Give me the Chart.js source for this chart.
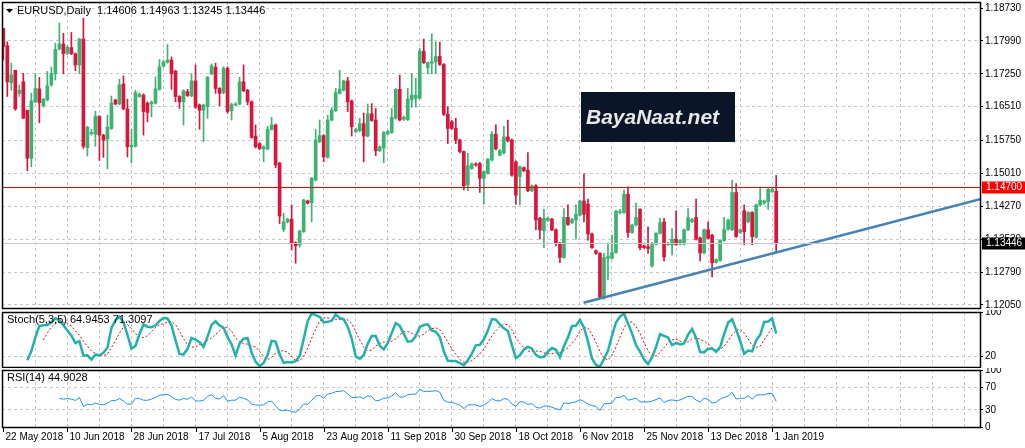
<!DOCTYPE html>
<html>
<head>
<meta charset="utf-8">
<script src="https://cdn.jsdelivr.net/npm/chart.js@4/dist/chart.umd.min.js"></script>
<style>
  body { margin: 0; background: #fff; width: 1025px; height: 448px; overflow: hidden; position: relative; }
  canvas { position: absolute; left: 0; }
</style>
</head>
<body>
<canvas id="mainChart" width="1025" height="310" style="top:0"></canvas>
<canvas id="stochChart" width="1025" height="58" style="top:310px"></canvas>
<canvas id="rsiChart" width="1025" height="80" style="top:368px"></canvas>
<script>
const openPrices = [
  1.1827,1.1788,1.1705,1.1733,1.1681,1.1707,1.1643,1.1535,1.1662,1.1691,
  1.1653,1.1666,1.1700,1.1725,1.1781,1.1792,1.1771,1.1784,1.1770,1.1745,
  1.1803,1.1559,1.1590,1.1589,1.1629,1.1587,1.1578,1.1602,1.1666,1.1657,
  1.1702,1.1646,1.1561,1.1562,1.1674,1.1677,1.1659,1.1657,1.1659,1.1690,
  1.1742,1.1751,1.1756,1.1731,1.1674,1.1662,1.1685,1.1675,1.1709,1.1655,
  1.1643,1.1651,1.1725,1.1740,1.1692,1.1683,1.1737,1.1642,1.1655,1.1657,
  1.1707,1.1688,1.1662,1.1585,1.1568,1.1556,1.1556,1.1600,1.1610,1.1524,
  1.1375,1.1392,1.1398,1.1345,1.1340,1.1370,1.1439,1.1435,1.1486,1.1572,
  1.1586,1.1537,1.1621,1.1642,1.1681,1.1688,1.1709,1.1664,1.1595,1.1597,
  1.1613,1.1585,1.1635,1.1621,1.1552,1.1558,1.1590,1.1593,1.1625,1.1690,
  1.1623,1.1622,1.1667,1.1670,1.1670,1.1776,1.1739,1.1749,1.1752,1.1764,
  1.1746,1.1634,1.1617,1.1602,1.1576,1.1550,1.1475,1.1512,1.1522,1.1523,
  1.1490,1.1501,1.1531,1.1589,1.1542,1.1547,1.1583,1.1576,1.1527,1.1494,
  1.1514,1.1508,1.1462,1.1473,1.1400,1.1372,1.1395,1.1398,1.1374,1.1344,
  1.1312,1.1402,1.1390,1.1396,1.1407,1.1439,1.1432,1.1365,1.1327,1.1321,
  1.1222,1.1310,1.1310,1.1323,1.1413,1.1413,1.1454,1.1368,1.1385,1.1420,
  1.1338,1.1336,1.1293,1.1342,1.1366,1.1392,1.1341,1.1340,1.1353,1.1342,
  1.1342,1.1374,1.1392,1.1402,1.1356,1.1322,1.1374,1.1362,1.1301,1.1305,
  1.1350,1.1375,1.1374,1.1458,1.1368,1.1417,1.1392,1.1413,1.1357,1.1430,
  1.1434,1.1437,1.1460,1.14606
];
const highPrices = [
  1.1827,1.1797,1.1749,1.1733,1.1700,1.1726,1.1643,1.1681,1.1725,1.1717,
  1.1670,1.1730,1.1740,1.1794,1.1839,1.1816,1.1788,1.1818,1.1772,1.1805,
  1.1850,1.1607,1.1600,1.1641,1.1631,1.1589,1.1632,1.1675,1.1668,1.1713,
  1.1720,1.1668,1.1600,1.1688,1.1682,1.1680,1.1662,1.1664,1.1718,1.1757,
  1.1755,1.1791,1.1763,1.1733,1.1676,1.1689,1.1690,1.1725,1.1745,1.1657,
  1.1657,1.1719,1.1747,1.1749,1.1694,1.1741,1.1741,1.1659,1.1660,1.1717,
  1.1745,1.1690,1.1664,1.1610,1.1570,1.1563,1.1607,1.1627,1.1612,1.1526,
  1.1411,1.1400,1.1430,1.1347,1.1373,1.1443,1.1441,1.1492,1.1600,1.1621,
  1.1588,1.1632,1.1649,1.1692,1.1733,1.1711,1.1717,1.1666,1.1603,1.1625,
  1.1637,1.1657,1.1658,1.1647,1.1563,1.1595,1.1598,1.1647,1.1692,1.1722,
  1.1630,1.1692,1.1725,1.1715,1.1782,1.1803,1.1752,1.1815,1.1797,1.1796,
  1.1748,1.1651,1.1620,1.1625,1.1578,1.1552,1.1546,1.1525,1.1525,1.1526,
  1.1507,1.1535,1.1595,1.1610,1.1555,1.1607,1.1621,1.1578,1.1529,1.1518,
  1.1516,1.1548,1.1475,1.1476,1.1402,1.1420,1.1403,1.1400,1.1376,1.1346,
  1.1422,1.1430,1.1400,1.1430,1.1441,1.1500,1.1443,1.1367,1.1329,1.1323,
  1.1321,1.1345,1.1362,1.1418,1.1420,1.1464,1.1471,1.1387,1.1434,1.1422,
  1.1340,1.1381,1.1346,1.1368,1.1400,1.1400,1.1346,1.1377,1.1417,1.1352,
  1.1376,1.1422,1.1400,1.1443,1.1358,1.1376,1.1392,1.1364,1.1309,1.1352,
  1.1402,1.1398,1.1486,1.1478,1.1376,1.1430,1.1415,1.1415,1.1432,1.1471,
  1.1441,1.1467,1.1470,1.14963
];
const lowPrices = [
  1.1756,1.1674,1.1688,1.1643,1.1674,1.1625,1.1507,1.1516,1.1660,1.1615,
  1.1650,1.1664,1.1697,1.1711,1.1779,1.1725,1.1768,1.1768,1.1732,1.1725,
  1.1557,1.1540,1.1587,1.1562,1.1530,1.1537,1.1511,1.1600,1.1655,1.1655,
  1.1644,1.1538,1.1525,1.1560,1.1672,1.1587,1.1617,1.1628,1.1657,1.1688,
  1.1740,1.1749,1.1690,1.1662,1.1647,1.1610,1.1674,1.1673,1.1647,1.1600,
  1.1572,1.1625,1.1723,1.1681,1.1653,1.1680,1.1636,1.1621,1.1653,1.1655,
  1.1685,1.1655,1.1580,1.1558,1.1554,1.1527,1.1554,1.1598,1.1514,1.1388,
  1.1370,1.1390,1.1329,1.1299,1.1335,1.1368,1.1432,1.1392,1.1484,1.1570,
  1.1527,1.1535,1.1619,1.1640,1.1679,1.1686,1.1640,1.1585,1.1592,1.1595,
  1.1527,1.1583,1.1618,1.1541,1.1550,1.1525,1.1588,1.1591,1.1623,1.1619,
  1.1620,1.1620,1.1650,1.1650,1.1668,1.1748,1.1725,1.1725,1.1725,1.1744,
  1.1631,1.1568,1.1600,1.1568,1.1547,1.1464,1.1462,1.1510,1.1517,1.1458,
  1.1432,1.1499,1.1529,1.1554,1.1540,1.1545,1.1572,1.1495,1.1432,1.1430,
  1.1505,1.1460,1.1460,1.1374,1.1353,1.1334,1.1393,1.1372,1.1338,1.1300,
  1.1310,1.1384,1.1388,1.1353,1.1405,1.1392,1.1351,1.1332,1.1319,1.1220,
  1.1218,1.1262,1.1308,1.1321,1.1410,1.1411,1.1357,1.1366,1.1383,1.1329,
  1.1332,1.1321,1.1290,1.1340,1.1364,1.1304,1.1339,1.1317,1.1339,1.1340,
  1.1340,1.1372,1.1390,1.1351,1.1304,1.1320,1.1353,1.1268,1.1299,1.1303,
  1.1348,1.1373,1.1372,1.1357,1.1366,1.1340,1.1390,1.1340,1.1355,1.1428,
  1.1432,1.1420,1.1458,1.13245
];
const closePrices = [
  1.1786,1.1707,1.1722,1.1646,1.1688,1.1625,1.1535,1.1664,1.1692,1.1660,
  1.1668,1.1698,1.1726,1.1780,1.1792,1.1770,1.1785,1.1770,1.1745,1.1803,
  1.1562,1.1605,1.1593,1.1630,1.1587,1.1576,1.1605,1.1659,1.1657,1.1700,
  1.1646,1.1561,1.1564,1.1683,1.1679,1.1640,1.1638,1.1661,1.1691,1.1741,
  1.1752,1.1756,1.1725,1.1674,1.1662,1.1687,1.1676,1.1709,1.1650,1.1643,
  1.1655,1.1717,1.1743,1.1692,1.1681,1.1737,1.1640,1.1656,1.1657,1.1707,
  1.1687,1.1662,1.1582,1.1561,1.1557,1.1561,1.1600,1.1610,1.1520,1.1405,
  1.1392,1.1398,1.1344,1.1338,1.1371,1.1441,1.1434,1.1490,1.1576,1.1586,
  1.1538,1.1621,1.1643,1.1683,1.1690,1.1709,1.1662,1.1606,1.1600,1.1613,
  1.1585,1.1635,1.1620,1.1552,1.1561,1.1593,1.1595,1.1627,1.1690,1.1621,
  1.1627,1.1668,1.1677,1.1677,1.1776,1.1750,1.1750,1.1752,1.1764,1.1746,
  1.1634,1.1602,1.1602,1.1576,1.1550,1.1473,1.1518,1.1522,1.1520,1.1490,
  1.1505,1.1533,1.1589,1.1556,1.1552,1.1583,1.1574,1.1497,1.1452,1.1516,
  1.1507,1.1462,1.1473,1.1396,1.1374,1.1400,1.1400,1.1374,1.1344,1.1312,
  1.1402,1.1386,1.1397,1.1409,1.1439,1.1409,1.1365,1.1334,1.1321,1.1222,
  1.1312,1.1314,1.1323,1.1416,1.1415,1.1454,1.1368,1.1385,1.1402,1.1334,
  1.1334,1.1332,1.1344,1.1366,1.1390,1.1313,1.1344,1.1353,1.1341,1.1350,
  1.1374,1.1401,1.1397,1.1353,1.1322,1.1374,1.1355,1.1300,1.1307,1.1350,
  1.1375,1.1396,1.1458,1.1359,1.1374,1.1370,1.1413,1.1359,1.1430,1.1441,
  1.1439,1.1465,1.1465,1.13446
];
const dateLabels = ['22 May 2018', '10 Jun 2018', '28 Jun 2018', '17 Jul 2018', '5 Aug 2018',
  '23 Aug 2018', '11 Sep 2018', '30 Sep 2018', '18 Oct 2018', '6 Nov 2018',
  '25 Nov 2018', '13 Dec 2018', '1 Jan 2019'];
const dateLabelBars = [0, 16, 32, 48, 64, 80, 96, 112, 128, 144, 160, 176, 192];
const priceTicks = [1.18730, 1.17990, 1.17250, 1.16510, 1.15750, 1.15010, 1.14270, 1.13530, 1.12790, 1.12050];
const trendBars = [144.9, 243.9];
const trendPrices = [1.1210, 1.1443];
const markedLevel = 1.14700;
const lastPrice = 1.13446;

const font = '"Liberation Sans", Arial, sans-serif';
const upColor = '#3cb371';
const downColor = '#dc143c';
const xMin = -0.33, xMax = 243.9;

// indicators computed from the candles
function stochastic(kPeriod, slowing, dPeriod) {
  const k = [], d = [];
  for (let i = 0; i < closePrices.length; i++) {
    if (i < kPeriod + slowing - 2) { k.push(null); continue; }
    let num = 0, den = 0;
    for (let j = i - slowing + 1; j <= i; j++) {
      const hh = Math.max(...highPrices.slice(j - kPeriod + 1, j + 1));
      const ll = Math.min(...lowPrices.slice(j - kPeriod + 1, j + 1));
      num += closePrices[j] - ll;
      den += hh - ll;
    }
    k.push(den ? num / den * 100 : 50);
  }
  for (let i = 0; i < k.length; i++) {
    const w = k.slice(Math.max(0, i - dPeriod + 1), i + 1).filter(v => v !== null);
    d.push(w.length === dPeriod ? w.reduce((a, b) => a + b, 0) / dPeriod : null);
  }
  return { k, d };
}
function rsi(period) {
  const out = [null];
  let gain = 0, loss = 0;
  for (let i = 1; i < closePrices.length; i++) {
    const ch = closePrices[i] - closePrices[i - 1];
    const g = Math.max(ch, 0), l = Math.max(-ch, 0);
    if (i <= period) {
      gain += g / period; loss += l / period;
      out.push(i === period ? 100 - 100 / (1 + gain / loss) : null);
    } else {
      gain = (gain * (period - 1) + g) / period;
      loss = (loss * (period - 1) + l) / period;
      out.push(100 - 100 / (1 + gain / loss));
    }
  }
  return out;
}

const stoch = stochastic(5, 3, 5);
const rsiValues = rsi(14);
const pts = arr => arr.map((v, i) => ({ x: i, y: v }));

const framePlugin = (label) => ({
  id: 'frame',
  afterDraw(chart) {
    const { ctx, chartArea: a } = chart;
    ctx.save();
    ctx.strokeStyle = '#000';
    ctx.lineWidth = 1.5;
    ctx.strokeRect(a.left + 0.5, a.top + 0.5, a.right - a.left, a.bottom - a.top);
    ctx.font = '11px ' + font;
    ctx.fillStyle = '#000';
    ctx.textBaseline = 'middle';
    ctx.fillText(label.text, label.x, a.top + label.dy);
    ctx.restore();
  }
});

const xScale = {
  type: 'linear', min: xMin, max: xMax, offset: false,
  ticks: { display: false },
  afterBuildTicks: s => { s.ticks = []; for (let v = 8; v < xMax; v += 8) s.ticks.push({ value: v }); },
  afterFit: s => { s.height = 0; s.paddingLeft = 0; s.paddingRight = 0; },
  grid: { color: '#c8c8c8', drawTicks: false, offset: false },
  border: { display: false, dash: [3, 3] }
};
function rightAxis(min, max, ticks, gridVals) {
  return {
    position: 'right', min, max,
    afterBuildTicks: s => { s.ticks = ticks.map(v => ({ value: v })); },
    afterFit: s => { s.width = 1025 - 980; s.paddingTop = 0; s.paddingBottom = 0; },
    ticks: { font: { size: 10, family: font }, color: '#000', padding: 2,
      callback: v => min > 1 ? v.toFixed(5) : String(v) },
    grid: {
      color: c => (gridVals === null || gridVals.includes(c.tick.value)) ? '#c8c8c8' : 'rgba(0,0,0,0)',
      tickColor: '#000', tickLength: 3
    },
    border: { color: '#000', dash: [3, 3] }
  };
}

// main price panel
new Chart(document.getElementById('mainChart'), {
  type: 'bar',
  data: {
    datasets: [
      {
        type: 'line', data: trendBars.map((b, i) => ({ x: b, y: trendPrices[i] })),
        borderColor: '#4682b4', borderWidth: 2.5, pointRadius: 0
      },
      {
        data: closePrices.map((c, i) => ({ x: i, y: [lowPrices[i], highPrices[i]] })),
        backgroundColor: closePrices.map((c, i) => c >= openPrices[i] ? upColor : downColor),
        barThickness: 1, grouped: false
      },
      {
        data: closePrices.map((c, i) => ({ x: i, y: [openPrices[i], c] })),
        backgroundColor: closePrices.map((c, i) => c >= openPrices[i] ? upColor : downColor),
        barThickness: 3, minBarLength: 1, grouped: false
      }
    ]
  },
  options: {
    responsive: false, animation: false,
    layout: { autoPadding: false, padding: { top: 2, bottom: 2, left: 2 } },
    plugins: { legend: { display: false }, tooltip: { enabled: false } },
    scales: { x: xScale, y: rightAxis(1.11982, 1.18865, priceTicks, null) }
  },
  plugins: [framePlugin({ text: 'EURUSD,Daily  1.14606 1.14963 1.13245 1.13446', x: 17, dy: 9 }), {
    id: 'levels',
    afterDatasetsDraw(chart) {
      const { ctx, chartArea: a, scales: { y } } = chart;
      ctx.save();
      [[lastPrice, '#c8c8c8', '#000'], [markedLevel, '#e00000', '#ff0000']].forEach(([v, line, box]) => {
        const py = Math.round(y.getPixelForValue(v)) + 0.5;
        ctx.strokeStyle = line; ctx.lineWidth = 1;
        ctx.beginPath(); ctx.moveTo(a.left, py); ctx.lineTo(a.right, py); ctx.stroke();
        ctx.fillStyle = box; ctx.fillRect(a.right + 2, py - 6, 43, 12);
        ctx.fillStyle = '#fff'; ctx.font = '10px ' + font; ctx.textBaseline = 'middle';
        ctx.fillText(v.toFixed(5), a.right + 6, py);
      });
      // small triangle before the title
      ctx.fillStyle = '#000';
      ctx.beginPath(); ctx.moveTo(6, 9); ctx.lineTo(13, 9); ctx.lineTo(9.5, 13); ctx.fill();
      // watermark
      ctx.fillStyle = '#0b1528'; ctx.fillRect(581, 92, 154, 50);
      ctx.fillStyle = '#e8e8e8'; ctx.font = 'italic bold 21px "Liberation Sans", sans-serif';
      ctx.textBaseline = 'middle';
      ctx.fillText('BayaNaat.net', 586, 118);
      ctx.restore();
    }
  }]
});

// stochastic panel
new Chart(document.getElementById('stochChart'), {
  type: 'line',
  data: {
    datasets: [
      { data: pts(stoch.k), borderColor: '#20b2aa', borderWidth: 2.5, pointRadius: 0 },
      { data: pts(stoch.d), borderColor: '#ff0000', borderWidth: 1, borderDash: [2, 2], pointRadius: 0 }
    ]
  },
  options: {
    responsive: false, animation: false,
    layout: { autoPadding: false, padding: { top: 2, bottom: 1, left: 2 } },
    plugins: { legend: { display: false }, tooltip: { enabled: false } },
    scales: { x: xScale, y: rightAxis(0, 100, [100, 80, 20, 0], [80, 20]) }
  },
  plugins: [framePlugin({ text: 'Stoch(5,3,5) 64.9453 71.3097', x: 7, dy: 8 })]
});

// RSI panel with the date axis
new Chart(document.getElementById('rsiChart'), {
  type: 'line',
  data: { datasets: [{ data: pts(rsiValues), borderColor: '#1e90ff', borderWidth: 1, pointRadius: 0 }] },
  options: {
    responsive: false, animation: false,
    layout: { autoPadding: false, padding: { top: 2, bottom: 21, left: 2 } },
    plugins: { legend: { display: false }, tooltip: { enabled: false } },
    scales: { x: xScale, y: rightAxis(0, 100, [100, 70, 30, 0], [70, 30]) }
  },
  plugins: [framePlugin({ text: 'RSI(14) 44.9028', x: 7, dy: 8 }), {
    id: 'dates',
    afterDraw(chart) {
      const { ctx, chartArea: a, scales: { x } } = chart;
      ctx.save();
      ctx.font = '10px ' + font; ctx.fillStyle = '#000'; ctx.strokeStyle = '#000';
      ctx.textBaseline = 'top';
      dateLabelBars.forEach((b, i) => {
        const px = Math.round(x.getPixelForValue(b)) + 0.5;
        ctx.beginPath(); ctx.moveTo(px, a.bottom); ctx.lineTo(px, a.bottom + 5); ctx.stroke();
        ctx.fillText(dateLabels[i], px + 2, a.bottom + 5);
      });
      ctx.restore();
    }
  }]
});
</script>
</body>
</html>
